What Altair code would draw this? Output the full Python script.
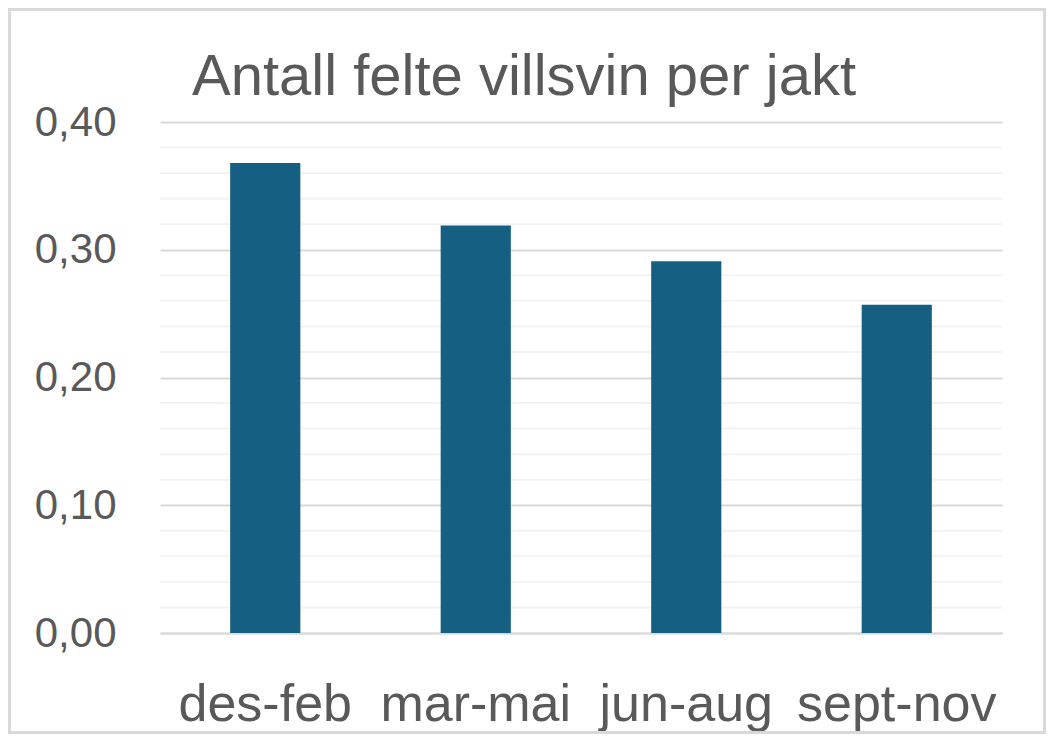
import altair as alt
import pandas as pd

categories = ["des-feb", "mar-mai", "jun-aug", "sept-nov"]
values = [0.368, 0.319, 0.291, 0.257]
major_ticks = [0.0, 0.1, 0.2, 0.3, 0.4]
minor_grid = [0.02, 0.04, 0.06, 0.08, 0.12, 0.14, 0.16, 0.18,
              0.22, 0.24, 0.26, 0.28, 0.32, 0.34, 0.36, 0.38]
title_text = "Antall felte villsvin per jakt"

W, H = 842, 511
PL, PT, PR, PB = 152, 114, 44, 101
FONT = "Liberation Sans"
TXT = "#595959"

df = pd.DataFrame({"periode": categories, "verdi": values})
minor_df = pd.DataFrame({"v": minor_grid})

yscale = alt.Scale(domain=[0, 0.4], nice=False, zero=True)
yaxis = alt.Axis(title=None, values=major_ticks, ticks=False, tickSize=0,
                 domain=False, grid=True, gridColor="#d9d9d9", gridWidth=2,
                 labelExpr="replace(format(datum.value, '.2f'), '.', ',')",
                 labelPadding=44, labelFontSize=42, labelFont=FONT,
                 labelColor=TXT, labelLimit=0)

minor = alt.Chart(minor_df).mark_rule(color="#f2f2f2", strokeWidth=2).encode(
    y=alt.Y("v:Q", scale=yscale, axis=yaxis),
    x=alt.value(0), x2=alt.value(W),
)

bars = alt.Chart(df).mark_bar(color="#156082").encode(
    x=alt.X("periode:N", sort=categories,
            scale=alt.Scale(paddingInner=2/3, paddingOuter=1/3),
            axis=alt.Axis(title=None, labelAngle=0, ticks=False, tickSize=0,
                          labelPadding=87, labelBaseline="alphabetic",
                          labelFontSize=52, labelFont=FONT, labelColor=TXT,
                          labelLimit=0,
                          domain=True, domainColor="#d9d9d9", domainWidth=2,
                          grid=False)),
    y=alt.Y("verdi:Q", scale=yscale, axis=yaxis),
)

title = alt.Chart(pd.DataFrame({"t": [title_text]})).mark_text(
    align="left", baseline="alphabetic", fontSize=58, font=FONT, color=TXT
).encode(text="t:N", x=alt.value(32), y=alt.value(-27))

border = alt.Chart(pd.DataFrame({"a": [0]})).mark_rect(
    fill=None, stroke="#d9d9d9", strokeWidth=3
).encode(
    x=alt.value(-PL + 1.5), x2=alt.value(W + PR - 1.5),
    y=alt.value(-PT + 1.5), y2=alt.value(H + PB - 1.5),
)

chart = alt.layer(minor, bars, title, border).properties(
    width=W, height=H,
    autosize=alt.AutoSizeParams(type="none"),
    padding={"left": PL, "top": PT, "right": PR, "bottom": PB},
    background="white",
).configure_view(stroke=None)

chart.save("out.html", embed_options={"renderer": "svg", "actions": False})
